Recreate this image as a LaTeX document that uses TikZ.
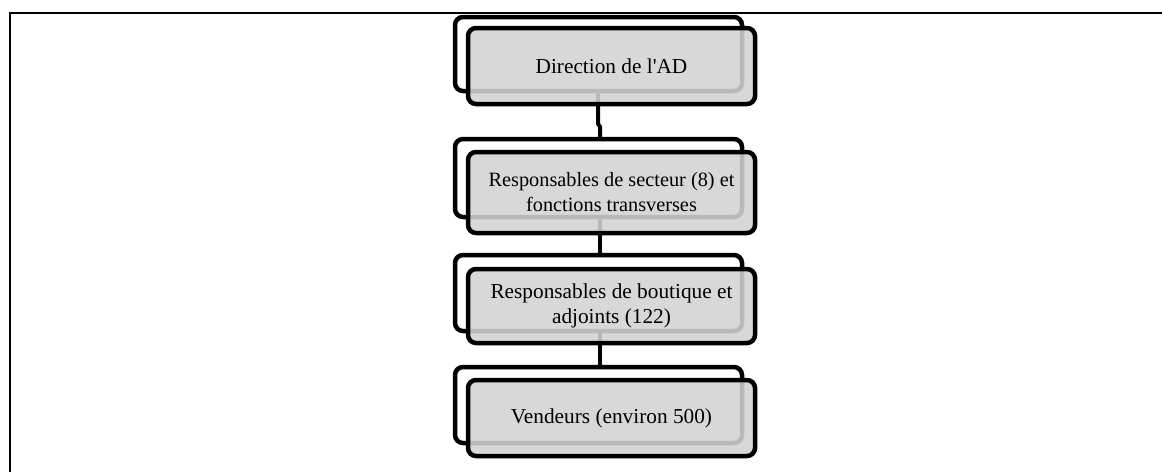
\documentclass[tikz,border=0pt]{standalone}
\usepackage{fontspec}
\setmainfont{Liberation Serif}
\definecolor{boxfill}{HTML}{D3D3D3}
\tikzset{
  backbox/.style={draw=black, line width=4.5pt, rounded corners=8pt, minimum width=287pt, inner sep=0pt},
  frontbox/.style={draw=black, line width=4.5pt, rounded corners=8pt, fill=boxfill, fill opacity=0.88, text opacity=1, minimum width=287pt, inner sep=0pt, align=center, font=\fontsize{21.3pt}{25pt}\selectfont},
  smalltext/.style={font=\fontsize{20.3pt}{25pt}\selectfont},
  conn/.style={draw=black, line width=4pt},
  frameline/.style={draw=black, line width=2pt}
}
\begin{document}
\begin{tikzpicture}[x=1pt, y=-1pt]
\useasboundingbox (0,0) rectangle (1162,472);
\fill[white] (0,0) rectangle (1162,472);
% frame
\coordinate (fa) at (1162,13.3);
\coordinate (fb) at (10,13.3);
\coordinate (fc) at (10,472);
\draw[frameline] (fa) -- (fb) -- (fc);
% back boxes
\node[backbox, minimum height=74pt] (b1) at (598.5,54) {};
\node[backbox, minimum height=78pt] (b2) at (598.5,178) {};
\node[backbox, minimum height=76pt] (b3) at (598.5,293) {};
\node[backbox, minimum height=76pt] (b4) at (598.5,405) {};
% connectors
\draw[conn] ([xshift=-0.5pt]b1.south) -- ([xshift=-0.5pt,yshift=13pt]b2.north) -- ([xshift=1.5pt,yshift=10pt]b2.north) -- ([xshift=1.5pt]b2.north);
\draw[conn] ([xshift=1pt]b2.south) -- ([xshift=1pt]b3.north);
\draw[conn] ([xshift=1pt]b3.south) -- ([xshift=1pt]b4.north);
% front boxes
\node[frontbox, minimum height=76pt] (f1) at (611.5,66) {Direction de l\textquotesingle AD};
\node[frontbox, smalltext, minimum height=81pt] (f2) at (611.5,192.5) {Responsables de secteur (8) et\\fonctions transverses};
\node[frontbox, minimum height=74pt] (f3) at (611.5,306) {Responsables de boutique et\\adjoints (122)};
\node[frontbox, minimum height=76pt] (f4) at (611.5,418) {Vendeurs (environ 500)};
\end{tikzpicture}
\end{document}
